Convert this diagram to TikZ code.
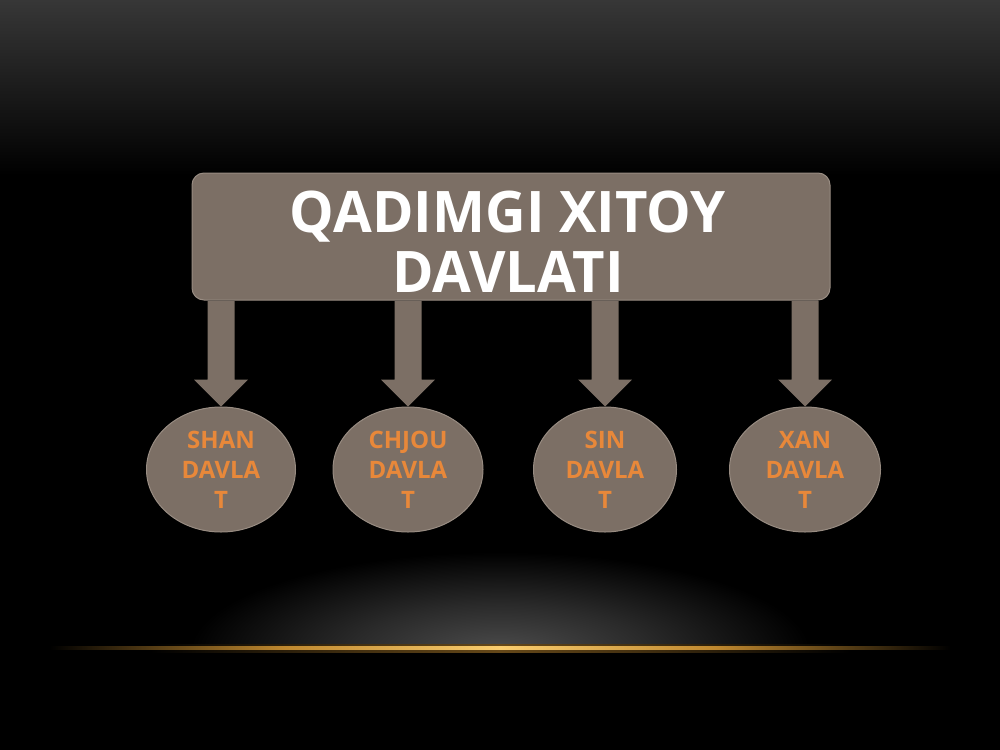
\documentclass[tikz,border=0pt]{standalone}
\usepackage{fontspec}
\setmainfont{Open Sans}
\newfontfamily\titlefont[FakeStretch=0.98]{Open Sans}
\usetikzlibrary{shapes.geometric,calc}
\definecolor{boxfill}{RGB}{124,111,101}
\definecolor{boxedge}{RGB}{152,140,130}
\definecolor{lbl}{RGB}{232,136,58}
\definecolor{topgray}{RGB}{55,55,55}
\definecolor{glow}{RGB}{76,76,76}
\definecolor{gold}{RGB}{225,160,55}
\definecolor{goldlight}{RGB}{250,205,110}
\pgfdeclarehorizontalshading{goldline}{100bp}{color(0bp)=(black); color(25bp)=(black);
  color(31bp)=(gold!40!black); color(38bp)=(gold!85!black); color(50bp)=(goldlight);
  color(62bp)=(gold!85!black); color(69bp)=(gold!40!black); color(75bp)=(black); color(100bp)=(black)}
\pgfdeclarehorizontalshading{goldglow}{100bp}{color(0bp)=(black); color(25bp)=(black);
  color(40bp)=(gold!30!black); color(50bp)=(gold!45!black);
  color(60bp)=(gold!30!black); color(75bp)=(black); color(100bp)=(black)}
\pgfdeclareradialshading{glowsh}{\pgfpoint{0bp}{0bp}}{color(0bp)=(glow); color(12bp)=(glow!55!black);
  color(25bp)=(black); color(50bp)=(black)}
\newcommand\downblock[2]{%
  \fill[blockarrow] let \p1=(#2.north), \p2=(#1.south) in
    (\x1-10.125pt,\y2-0.4pt) -- (\x1-10.125pt,\y1+20.25pt) -- (\x1-20.25pt,\y1+20.25pt)
    -- (\x1,\y1) -- (\x1+20.25pt,\y1+20.25pt) -- (\x1+10.125pt,\y1+20.25pt)
    -- (\x1+10.125pt,\y2-0.4pt) -- cycle;}
\begin{document}
\begin{tikzpicture}[x=0.75pt,y=-0.75pt,
  titlebox/.style={draw=boxedge, line width=0.75pt, fill=boxfill, rounded corners=9pt,
    minimum width=478.5pt, minimum height=95.25pt, inner sep=0pt},
  titletext/.style={inner sep=0pt, text=white, align=center,
    font=\titlefont\bfseries\fontsize{43}{45}\selectfont},
  state/.style={ellipse, draw=boxedge, line width=0.75pt, fill=boxfill, inner sep=0pt,
    minimum height=93.75pt, text=lbl, align=center,
    font=\bfseries\fontsize{18}{22.5}\selectfont},
  blockarrow/.style={fill=boxfill, draw=none}]
\useasboundingbox (0,0) rectangle (1000,750);
% background
\fill[black] (0,0) rectangle (1000,750);
\shade[top color=topgray, bottom color=black] (0,0) rectangle (1000,175);
\begin{scope}
  \clip (0,520) rectangle (1000,646);
  \shade[shading=glowsh] (500,652) ellipse [x radius=310, y radius=100];
\end{scope}
\shade[shading=goldglow] (150,644) rectangle (850,652);
\shade[shading=goldline] (50,646.5) rectangle (950,649.5);
% title
\node[titlebox] (title) at (511,236.5) {};
\node[titletext] (titletext) at (508,241.5) {QADIMGI XITOY\\DAVLATI};
% states
\node[state, minimum width=111.75pt] (shan) at (221,469.5) {SHAN\\DAVLA\\T};
\node[state, minimum width=112.5pt] (chjou) at (408,469.5) {CHJOU\\DAVLA\\T};
\node[state, minimum width=107.25pt] (sin) at (605,469.5) {SIN\\DAVLA\\T};
\node[state, minimum width=113.25pt] (xan) at (805,469.5) {XAN\\DAVLA\\T};
% arrows
\downblock{title}{shan}
\downblock{title}{chjou}
\downblock{title}{sin}
\downblock{title}{xan}
\end{tikzpicture}
\end{document}
